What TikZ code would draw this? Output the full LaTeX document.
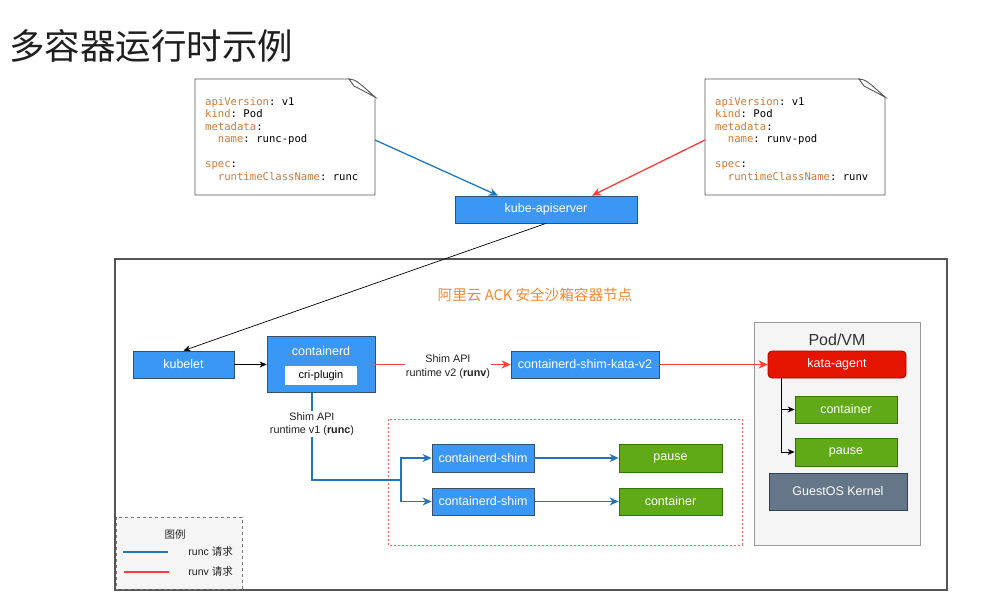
\documentclass[tikz,border=0pt]{standalone}
\usepackage{fontspec}
\setmainfont{Liberation Sans}
\setmonofont{DejaVu Sans Mono}
\newfontfamily\cjk{Noto Sans CJK SC}
\usetikzlibrary{arrows.meta}
\definecolor{bluefill}{HTML}{3B97F4}
\definecolor{bluebd}{HTML}{36506E}
\definecolor{greenfill}{HTML}{60A917}
\definecolor{greenbd}{HTML}{2D7600}
\definecolor{redfill}{HTML}{E51400}
\definecolor{redbd}{HTML}{B20000}
\definecolor{grayfill}{HTML}{647687}
\definecolor{graybd}{HTML}{314354}
\definecolor{runcc}{HTML}{2176B9}
\definecolor{runvc}{HTML}{FF3B3B}
\definecolor{orangett}{HTML}{F5882E}
\definecolor{keyc}{HTML}{CC7A38}
\definecolor{textdark}{HTML}{222222}
\definecolor{lightbg}{HTML}{F5F5F5}
\definecolor{framec}{HTML}{555555}
\begin{document}
\begin{tikzpicture}[x=1pt,y=-1pt,
  box/.style={inner sep=0pt, line width=0.8pt, text=white, font=\fontsize{12.5}{14}\selectfont},
  bluebox/.style={box, draw=bluebd, fill=bluefill},
  greenbox/.style={box, draw=greenbd, fill=greenfill},
  redbox/.style={box, draw=redbd, fill=redfill, rounded corners=4pt},
  graybox/.style={box, draw=graybd, fill=grayfill},
  runc/.style={draw=runcc, line width=1.3pt},
  runcarr/.style={runc, -{Stealth[length=9pt,width=8pt]}},
  runv/.style={draw=runvc, line width=1.3pt},
  runvarr/.style={runv, -{Stealth[length=9pt,width=8pt]}},
  blackarr/.style={draw=black, line width=0.7pt, -{Stealth[length=7pt,width=6pt]}},
  lbl/.style={fill=white, inner sep=1pt, align=center, text=textdark, font=\fontsize{10.8}{13.5}\selectfont},
  doc/.style={draw=framec, fill=white, line width=0.9pt},
  codeline/.style={anchor=base west, inner sep=0pt, font=\ttfamily\fontsize{10.6}{12}\selectfont},
  legendtxt/.style={inner sep=0pt, text=textdark, font=\fontsize{10.5}{12}\selectfont}
]
\useasboundingbox (0,0) rectangle (994,597);
\fill[white] (0,0) rectangle (994,597);

% title
\node[anchor=west, inner sep=0pt, text=black!88, font=\cjk\fontsize{35.5}{38}\selectfont] (title) at (9,46) {多容器运行时示例};

% left doc
\path[doc] (195,79) -- (349,79) -- (375,97) -- (375,195) -- (195,195) -- cycle;
\path[doc] (349,79) .. controls (356,80) .. (375,97) -- (354,86) -- cycle;
\coordinate (docLout) at (375,140);
\node[codeline] (l1) at (205,105) {\textcolor{keyc}{apiVersion}: v1};
\node[codeline] (l2) at (205,117.5) {\textcolor{keyc}{kind}: Pod};
\node[codeline] (l3) at (205,130) {\textcolor{keyc}{metadata}:};
\node[codeline] (l4) at (205,142.5) {\ \ \textcolor{keyc}{name}: runc-pod};
\node[codeline] (l5) at (205,167.5) {\textcolor{keyc}{spec}:};
\node[codeline] (l6) at (205,180) {\ \ \textcolor{keyc}{runtimeClassName}: runc};

% right doc
\path[doc] (705,79) -- (859,79) -- (885,97) -- (885,195) -- (705,195) -- cycle;
\path[doc] (859,79) .. controls (866,80) .. (885,97) -- (864,86) -- cycle;
\coordinate (docRout) at (705,140);
\node[codeline] (r1) at (715,105) {\textcolor{keyc}{apiVersion}: v1};
\node[codeline] (r2) at (715,117.5) {\textcolor{keyc}{kind}: Pod};
\node[codeline] (r3) at (715,130) {\textcolor{keyc}{metadata}:};
\node[codeline] (r4) at (715,142.5) {\ \ \textcolor{keyc}{name}: runv-pod};
\node[codeline] (r5) at (715,167.5) {\textcolor{keyc}{spec}:};
\node[codeline] (r6) at (715,180) {\ \ \textcolor{keyc}{runtimeClassName}: runv};

% apiserver
\node[bluebox, minimum width=182pt, minimum height=27pt] (api) at (546,209.5) {kube-apiserver};

% outer frame
\draw[draw=framec, line width=1.1pt] (115,259) rectangle (947,590);
\node[text=orangett, inner sep=0pt, font=\cjk\fontsize{14.6}{16}\selectfont] (nodetitle) at (535,295) {阿里云 ACK 安全沙箱容器节点};

% legend
\draw[draw=framec!80, dashed, fill=lightbg, line width=0.8pt] (116,517) rectangle (242,589);
\node[legendtxt, font=\cjk\fontsize{10.5}{12}\selectfont] (legtitle) at (175,535) {图例};
\coordinate (lga) at (123,552); \coordinate (lgb) at (168,552);
\coordinate (lgc) at (124,572); \coordinate (lgd) at (169,572);
\draw[runc] (lga) -- (lgb);
\draw[runv] (lgc) -- (lgd);
\node[legendtxt, anchor=east] (legrunc) at (233,552) {runc {\cjk 请求}};
\node[legendtxt, anchor=east] (legrunv) at (233,572) {runv {\cjk 请求}};

% Pod/VM
\draw[draw=black!40, fill=lightbg, line width=1pt] (754,322) rectangle (920,545);
\node[inner sep=0pt, text=black!80, font=\fontsize{16}{18}\selectfont] (podvm) at (837,340) {Pod/VM};
\node[redbox, minimum width=138pt, minimum height=27pt] (agent) at (837,364.5) {kata-agent};
\node[greenbox, minimum width=102pt, minimum height=27pt] (vmcont) at (846,409.5) {container};
\node[greenbox, minimum width=102pt, minimum height=28pt] (vmpause) at (846,452) {pause};
\node[graybox, minimum width=138pt, minimum height=37pt] (kernel) at (838,491.5) {GuestOS Kernel};

% red dashed region
\draw[draw=runvc!80, dash pattern=on 2pt off 2pt, line width=0.7pt] (388,419) rectangle (742,545);
\node[bluebox, minimum width=102pt, minimum height=28pt] (shim1) at (483,458) {containerd-shim};
\node[bluebox, minimum width=102pt, minimum height=27pt] (shim2) at (483,501.5) {containerd-shim};
\node[greenbox, minimum width=103pt, minimum height=28pt] (pause) at (670.5,458) {pause};
\node[greenbox, minimum width=103pt, minimum height=27pt] (cont) at (670.5,501.5) {container};

% node components
\node[bluebox, minimum width=101pt, minimum height=27pt] (kubelet) at (183.5,364.5) {kubelet};
\node[bluebox, minimum width=108pt, minimum height=56pt] (containerd) at (321,364.5) {};
\node[inner sep=0pt, text=white, font=\fontsize{12.5}{14}\selectfont] (cdlabel) at (321,351) {containerd};
\node[fill=white, inner sep=0pt, minimum width=72pt, minimum height=19pt, text=black, font=\fontsize{11}{13}\selectfont] (cri) at (321,375.5) {cri-plugin};
\node[bluebox, minimum width=148pt, minimum height=27pt] (katav2) at (585,364.5) {containerd-shim-kata-v2};

% connectors
\draw[runcarr] (docLout) -- ([xshift=-48pt]api.north);
\draw[runvarr] (docRout) -- ([xshift=46pt]api.north);
\draw[blackarr] (api.south) -- (kubelet.north);
\draw[blackarr] (kubelet.east) -- (containerd.west);

\draw[runvarr] (containerd.east) -- (katav2.west);
\node[lbl] (v2lbl) at (448,366.5) {Shim API\\runtime v2 (\textbf{runv})};
\draw[runvarr] (katav2.east) -- (agent.west);

\coordinate (br) at (401,480);
\draw[runc] ([xshift=-9pt]containerd.south) |- (br);
\node[lbl] (v1lbl) at (312,424) {Shim API\\runtime v1 (\textbf{runc})};
\draw[runcarr] (br) |- (shim1.west);
\draw[runcarr] (br) |- (shim2.west);
\draw[runcarr] (shim1.east) -- (pause.west);
\draw[runcarr] (shim2.east) -- (cont.west);

\draw[blackarr] ([xshift=-56pt]agent.south) |- (vmcont.west);
\draw[blackarr] ([xshift=-56pt]agent.south) |- (vmpause.west);
\end{tikzpicture}
\end{document}
